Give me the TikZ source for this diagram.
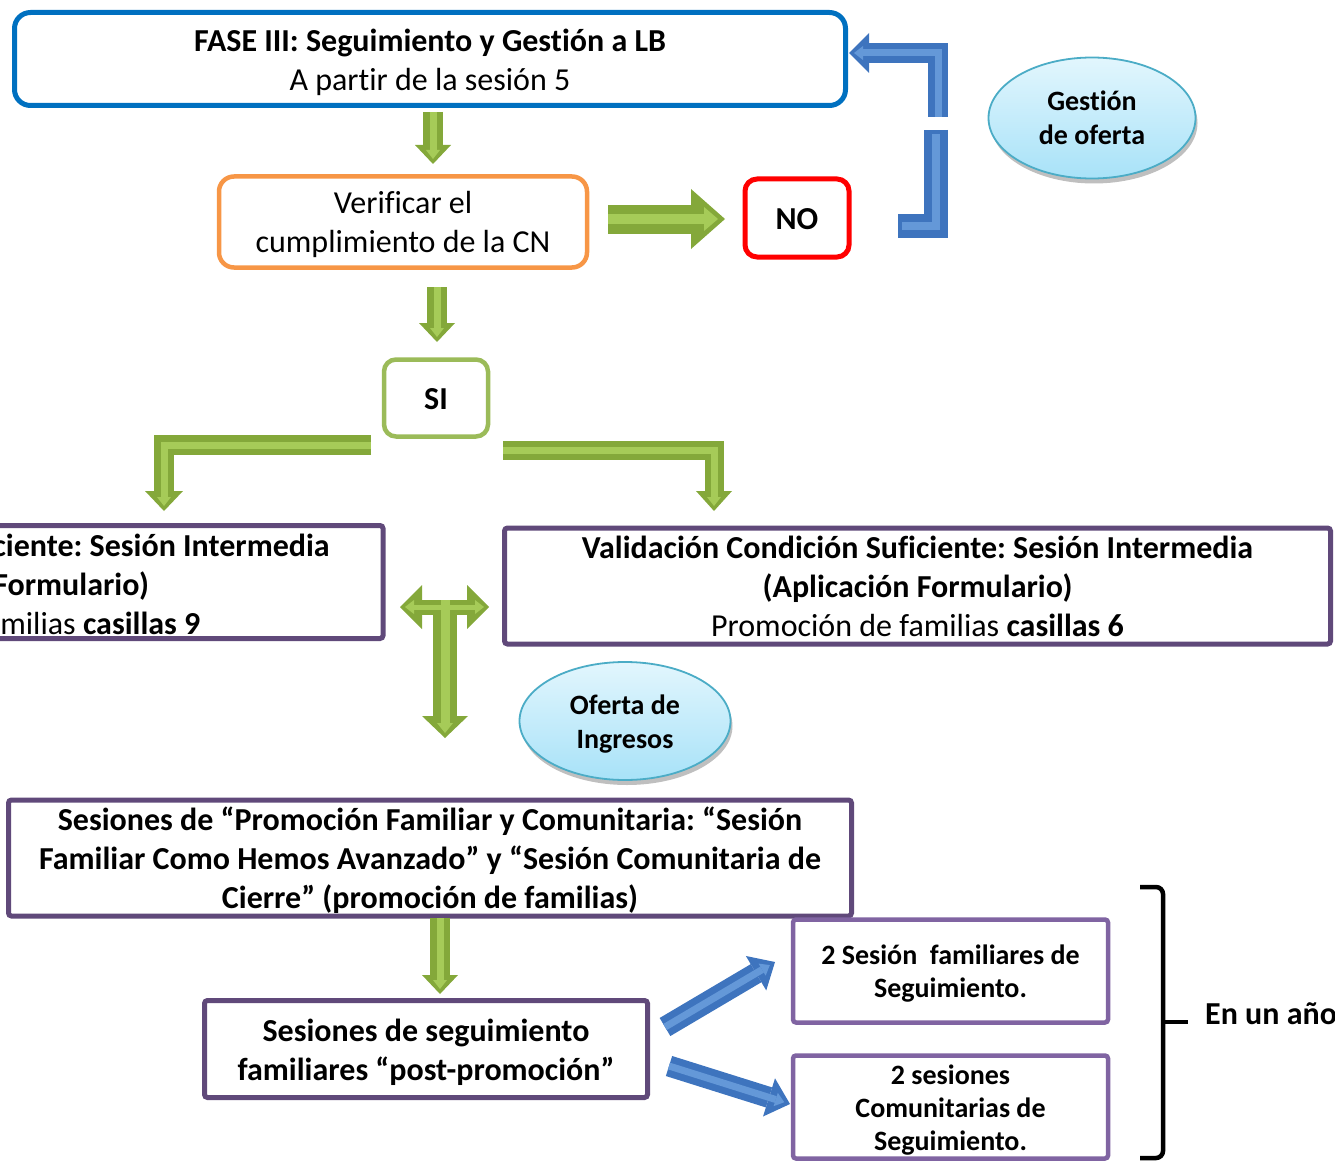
\documentclass[tikz,border=0pt]{standalone}
\usepackage{fontspec}
\setmainfont{Carlito}[Ligatures=NoCommon]
\usetikzlibrary{arrows.meta,shapes.geometric,shadows}
\definecolor{fblue}{RGB}{0,112,192}
\definecolor{forange}{RGB}{247,150,70}
\definecolor{fred}{RGB}{255,0,0}
\definecolor{fgreen}{RGB}{155,187,89}
\definecolor{fpurple}{RGB}{96,73,122}
\definecolor{fpurpleL}{RGB}{128,100,162}
\definecolor{gmid}{RGB}{132,168,58}
\definecolor{glight}{RGB}{166,203,88}
\definecolor{bmid}{RGB}{62,116,190}
\definecolor{blight}{RGB}{100,152,216}
\definecolor{elltop}{RGB}{226,246,253}
\definecolor{ellbot}{RGB}{168,226,248}
\definecolor{elldraw}{RGB}{75,172,198}
\begin{document}
\frenchspacing
\begin{tikzpicture}[x=1pt,y=-1pt,
  box/.style={draw, inner sep=0pt, text=black},
  lab/.style={align=center, inner sep=0pt, text=black},
  mainfont/.style={font=\fontsize{32}{39}\selectfont},
  boldfont/.style={font=\fontsize{32}{39}\selectfont\bfseries},
  smallfont/.style={font=\fontsize{28}{33}\selectfont\bfseries},
  ellipsebox/.style={ellipse, draw=elldraw, line width=1.8pt, top color=elltop, bottom color=ellbot,
     inner sep=0pt,
     drop shadow={shadow xshift=2pt, shadow yshift=-5pt, opacity=0.25, fill=black}},
  gbase/.style={draw=gmid, line width=#1, line join=miter},
  ghi/.style={draw=glight, line width=#1, line join=miter},
  bbase/.style={draw=bmid, line width=#1, line join=miter},
  bhi/.style={draw=blight, line width=#1, line join=miter},
]
\useasboundingbox (0,0) rectangle (1335,1161);
\clip (0,0) rectangle (1335,1161);

% boxes
\node[box, draw=fblue, line width=5pt, rounded corners=16pt, minimum width=831pt, minimum height=93pt,
  label={[lab, mainfont, yshift=-3.5pt]center:{\textbf{FASE III: Seguimiento y Gestión a LB}\\A partir de la sesión 5}}] (fase) at (430,59) {};
\node[box, draw=forange, line width=4.5pt, rounded corners=15pt, minimum width=368pt, minimum height=91pt,
  label={[lab, mainfont, yshift=-2.5pt]center:{Verificar el\\cumplimiento de la CN}}] (verif) at (403,222) {};
\node[box, draw=fred, line width=5pt, rounded corners=12pt, minimum width=104pt, minimum height=78pt,
  label={[lab, boldfont, yshift=-1pt]center:NO}] (no) at (797,218) {};
\node[box, draw=fgreen, line width=4.5pt, rounded corners=12pt, minimum width=104pt, minimum height=77pt,
  label={[lab, boldfont, yshift=-1pt]center:SI}] (si) at (436,398) {};
\node[box, draw=fpurple, line width=5pt, rounded corners=3pt, minimum width=784pt, minimum height=113pt,
  label={[lab, mainfont, yshift=-2pt, xshift=3pt]center:{\textbf{Validación Condición Suficiente: Sesión Intermedia}\\\textbf{(Aplicación Formulario)}\\Promoción de familias \textbf{casillas 9}}}] (lbox) at (-9,582) {};
\node[box, draw=fpurple, line width=5pt, rounded corners=3pt, minimum width=826pt, minimum height=116pt,
  label={[lab, mainfont]center:{\textbf{Validación Condición Suficiente: Sesión Intermedia}\\\textbf{(Aplicación Formulario)}\\Promoción de familias \textbf{casillas 6}}}] (rbox) at (917.5,586) {};
\node[box, draw=fpurple, line width=5pt, rounded corners=3pt, minimum width=843pt, minimum height=116pt,
  label={[lab, boldfont, yshift=-2pt]center:{Sesiones de “Promoción Familiar y Comunitaria: “Sesión\\Familiar Como Hemos Avanzado” y “Sesión Comunitaria de\\Cierre” (promoción de familias)}}] (prom) at (430,858) {};
\node[box, draw=fpurple, line width=5pt, rounded corners=3pt, minimum width=443pt, minimum height=97pt,
  label={[lab, boldfont, yshift=-3pt]center:{Sesiones de seguimiento\\familiares “post-promoción”}}] (post) at (426,1049) {};
\node[box, draw=fpurpleL, line width=4.5pt, rounded corners=3pt, minimum width=315pt, minimum height=103pt,
  label={[lab, smallfont, yshift=-3pt]center:{2 Sesión\ \ familiares de\\Seguimiento.}}] (s1) at (950.5,971) {};
\node[box, draw=fpurpleL, line width=4.5pt, rounded corners=3pt, minimum width=315pt, minimum height=103pt,
  label={[lab, smallfont, yshift=-3pt]center:{2 sesiones\\Comunitarias de\\Seguimiento.}}] (s2) at (950.5,1107) {};

\node[ellipsebox, minimum width=207pt, minimum height=121pt,
  label={[lab, font=\fontsize{28}{34}\selectfont\bfseries]center:{Gestión\\de oferta}}] (gest) at (1092,118) {};
\node[ellipsebox, minimum width=211pt, minimum height=118pt,
  label={[lab, font=\fontsize{28}{34}\selectfont\bfseries, yshift=-3.5pt]center:{Oferta de\\Ingresos}}] (ofer) at (625,721) {};

% arrow end points
\coordinate (a1s) at (433,112); \coordinate (a1e) at (433,164);
\coordinate (a2s) at (437,287); \coordinate (a2e) at (437,342);
\coordinate (a3s) at (608,219); \coordinate (a3e) at (725,219);
\coordinate (lLs) at (371,445); \coordinate (lLe) at (164,511);
\coordinate (lRs) at (503,450); \coordinate (lRe) at (714,511);
\coordinate (tHs) at (400,607); \coordinate (tHe) at (489,607);
\coordinate (tVs) at (445,600); \coordinate (tVe) at (445,738);
\coordinate (a4s) at (440,918); \coordinate (a4e) at (440,994);
\coordinate (bu1) at (938,117); \coordinate (bu2) at (849,53);
\coordinate (bl1) at (936,130); \coordinate (bl2) at (898,226);
\coordinate (d1s) at (665,1027); \coordinate (d1e) at (775,962);
\coordinate (d2s) at (669,1066); \coordinate (d2e) at (790,1104);

% green arrows
\foreach \s/\e in {a1s/a1e, a2s/a2e, a4s/a4e}{
  \draw[gbase=20pt, -{Triangle[width=36pt,length=19pt,line width=0pt]}] (\s) -- (\e);
  \draw[ghi=7pt, shorten >=5pt, -{Triangle[width=14pt,length=9pt,line width=0pt]}] (\s) -- (\e);
}
\draw[gbase=29pt, -{Triangle[width=60pt,length=34pt,line width=0pt]}] (a3s) -- (a3e);
\draw[ghi=10pt, shorten >=7pt, -{Triangle[width=24pt,length=14pt,line width=0pt]}] (a3s) -- (a3e);

\draw[gbase=20pt, -{Triangle[width=38pt,length=20pt,line width=0pt]}] (lLs) -| (lLe);
\draw[ghi=7pt, shorten >=5pt, -{Triangle[width=14pt,length=9pt,line width=0pt]}] (lLs) -| (lLe);
\draw[gbase=19pt, -{Triangle[width=36pt,length=20pt,line width=0pt]}] (lRs) -| (lRe);
\draw[ghi=7pt, shorten >=5pt, -{Triangle[width=14pt,length=9pt,line width=0pt]}] (lRs) -| (lRe);

\draw[gbase=15pt, {Triangle[width=44pt,length=22pt,line width=0pt]}-{Triangle[width=44pt,length=22pt,line width=0pt]}] (tHs) -- (tHe);
\draw[gbase=24pt, -{Triangle[width=46pt,length=22pt,line width=0pt]}] (tVs) -- (tVe);
\draw[ghi=9pt, shorten >=5pt, -{Triangle[width=16pt,length=10pt,line width=0pt]}] (tVs) -- (tVe);
\draw[ghi=5pt, shorten >=5pt, shorten <=5pt, {Triangle[width=14pt,length=9pt,line width=0pt]}-{Triangle[width=14pt,length=9pt,line width=0pt]}] (tHs) -- (tHe);

% blue arrows
\draw[bbase=20pt, -{Triangle[width=40pt,length=20pt,line width=0pt]}] (bu1) |- (bu2);
\draw[bhi=7pt, shorten >=5pt, -{Triangle[width=14pt,length=9pt,line width=0pt]}] (bu1) |- (bu2);
\draw[bbase=24pt] (bl1) |- (bl2);
\draw[bhi=8pt, shorten <=4pt, shorten >=4pt] (bl1) |- (bl2);
\foreach \s/\e in {d1s/d1e, d2s/d2e}{
  \draw[bbase=21pt, -{Triangle[width=40pt,length=22pt,line width=0pt]}] (\s) -- (\e);
  \draw[bhi=7pt, shorten >=6pt, -{Triangle[width=14pt,length=9pt,line width=0pt]}] (\s) -- (\e);
}

% brace
\coordinate (br1) at (1140,887); \coordinate (br2) at (1163,887);
\coordinate (br3) at (1163,1158); \coordinate (br4) at (1140,1158);
\coordinate (brm) at (1163,1022); \coordinate (brt) at (1188,1022);
\draw[line width=4.5pt, rounded corners=7pt] (br1) -- (br2) -- (br3) -- (br4);
\draw[line width=4.5pt] (brm) -- (brt);
\node[anchor=west, inner sep=0pt, font=\fontsize{32}{39}\selectfont\bfseries] (year) at (1205,1014) {En un año};
\end{tikzpicture}
\end{document}
